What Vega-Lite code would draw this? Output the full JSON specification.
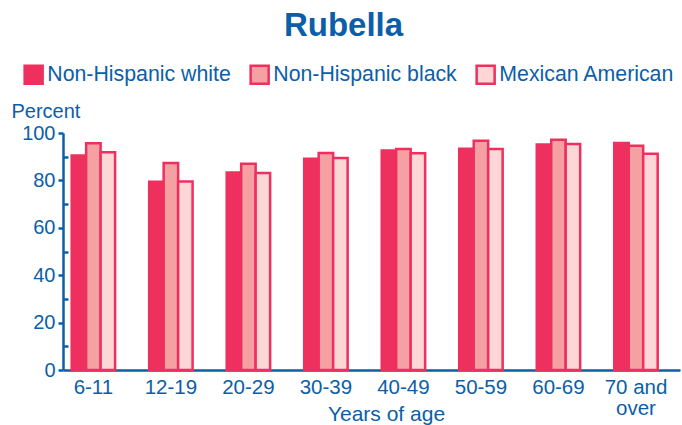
{
  "$schema": "https://vega.github.io/schema/vega-lite/v6.json",
  "width": 617,
  "height": 237,
  "autosize": {"type": "none"},
  "padding": {"left": 63, "top": 133, "right": 2, "bottom": 55},
  "background": "white",
  "config": {
    "font": "Liberation Sans",
    "view": {"stroke": null}
  },
  "title": {
    "text": "Rubella",
    "fontSize": 33,
    "fontWeight": "bold",
    "color": "#0b5ea8",
    "anchor": "middle",
    "dx": -28,
    "dy": -17
  },
  "data": {
    "values": [
      {"age": "6-11", "group": "Non-Hispanic white", "value": 90.5},
      {"age": "6-11", "group": "Non-Hispanic black", "value": 95.7},
      {"age": "6-11", "group": "Mexican American", "value": 91.9},
      {"age": "12-19", "group": "Non-Hispanic white", "value": 79.4},
      {"age": "12-19", "group": "Non-Hispanic black", "value": 87.3},
      {"age": "12-19", "group": "Mexican American", "value": 79.5},
      {"age": "20-29", "group": "Non-Hispanic white", "value": 83.3},
      {"age": "20-29", "group": "Non-Hispanic black", "value": 87.0},
      {"age": "20-29", "group": "Mexican American", "value": 83.1},
      {"age": "30-39", "group": "Non-Hispanic white", "value": 89.1},
      {"age": "30-39", "group": "Non-Hispanic black", "value": 91.6},
      {"age": "30-39", "group": "Mexican American", "value": 89.4},
      {"age": "40-49", "group": "Non-Hispanic white", "value": 92.6},
      {"age": "40-49", "group": "Non-Hispanic black", "value": 93.3},
      {"age": "40-49", "group": "Mexican American", "value": 91.5},
      {"age": "50-59", "group": "Non-Hispanic white", "value": 93.4},
      {"age": "50-59", "group": "Non-Hispanic black", "value": 96.7},
      {"age": "50-59", "group": "Mexican American", "value": 93.3},
      {"age": "60-69", "group": "Non-Hispanic white", "value": 95.1},
      {"age": "60-69", "group": "Non-Hispanic black", "value": 97.2},
      {"age": "60-69", "group": "Mexican American", "value": 95.4},
      {"age": "70 and over", "group": "Non-Hispanic white", "value": 95.8},
      {"age": "70 and over", "group": "Non-Hispanic black", "value": 94.6},
      {"age": "70 and over", "group": "Mexican American", "value": 91.2}
    ]
  },
  "mark": {"type": "bar", "stroke": "#ee305e", "strokeWidth": 2.5},
  "encoding": {
    "x": {
      "field": "age",
      "type": "nominal",
      "sort": ["6-11", "12-19", "20-29", "30-39", "40-49", "50-59", "60-69", "70 and over"],
      "scale": {"paddingInner": 0.44, "paddingOuter": 0.2, "align": 0.28},
      "axis": {
        "title": "Years of age",
        "titleFontSize": 21,
        "titleFontWeight": "normal",
        "titleColor": "#0b5ea8",
        "titleX": 323,
        "titleY": 50,
        "titleAlign": "center",
        "titleBaseline": "alphabetic",
        "labelAngle": 0,
        "labelFontSize": 20.5,
        "labelColor": "#0b5ea8",
        "labelPadding": 7,
        "labelLineHeight": 21,
        "labelExpr": "datum.label == '70 and over' ? ['70 and', 'over'] : datum.label",
        "ticks": false,
        "domainColor": "#0b5ea8",
        "domainWidth": 2.5
      }
    },
    "xOffset": {
      "field": "group",
      "type": "nominal",
      "sort": ["Non-Hispanic white", "Non-Hispanic black", "Mexican American"],
      "scale": {"paddingInner": 0, "paddingOuter": 0}
    },
    "y": {
      "field": "value",
      "type": "quantitative",
      "scale": {"domain": [0, 100], "nice": false},
      "axis": {
        "title": "Percent",
        "titleFontSize": 20,
        "titleFontWeight": "normal",
        "titleColor": "#0b5ea8",
        "titleAngle": 0,
        "titleAlign": "left",
        "titleBaseline": "alphabetic",
        "titleX": -52,
        "titleY": -16,
        "values": [0, 10, 20, 30, 40, 50, 60, 70, 80, 90, 100],
        "labelExpr": "datum.value % 20 == 0 ? datum.label : ''",
        "labelFontSize": 20,
        "labelColor": "#0b5ea8",
        "labelPadding": 3,
        "tickSize": {"condition": {"test": "datum.value % 20 != 0", "value": -5}, "value": 5},
        "tickColor": "#0b5ea8",
        "tickWidth": 2.5,
        "domainColor": "#0b5ea8",
        "domainWidth": 2.5,
        "grid": false
      }
    },
    "fill": {
      "field": "group",
      "type": "nominal",
      "sort": ["Non-Hispanic white", "Non-Hispanic black", "Mexican American"],
      "scale": {
        "domain": ["Non-Hispanic white", "Non-Hispanic black", "Mexican American"],
        "range": ["#ee305e", "#f5a0a3", "#fdd7d5"]
      },
      "legend": {
        "title": null,
        "orient": "none",
        "direction": "horizontal",
        "legendX": -40,
        "legendY": -69,
        "padding": 0,
        "symbolType": "square",
        "symbolSize": 324,
        "symbolStrokeColor": "#ee305e",
        "symbolStrokeWidth": 2.5,
        "symbolOpacity": 1,
        "labelFontSize": 21.3,
        "labelColor": "#0b5ea8",
        "labelOffset": 3,
        "labelLimit": 300,
        "columnPadding": 14
      }
    }
  }
}
